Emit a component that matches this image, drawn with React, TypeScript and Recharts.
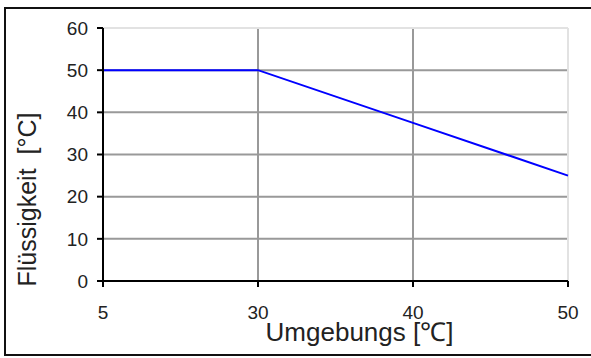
import React from 'react';
import { LineChart, Line, XAxis, YAxis, CartesianGrid, ReferenceLine } from 'recharts';

const categories = ['5', '30', '40', '50'];
const fluidTemp = [50, 50, 37.5, 25];
const yTicks = [0, 10, 20, 30, 40, 50, 60];
const xTitle = 'Umgebungs [℃]';
const yTitle = 'Flüssigkeit  [°C]';

const data = categories.map((c, i) => ({ x: c, y: fluidTemp[i] }));

const FONT = '"Liberation Sans", Arial, sans-serif';

const XTitle = (props: any) => {
  const vb = props.viewBox;
  return (
    <text x={vb.x + vb.width / 2 + 24} y={vb.y + 60} textAnchor="middle"
      fontFamily={FONT} fontSize={26} fill="#222" style={{ whiteSpace: 'pre' }}>{xTitle}</text>
  );
};

const YTitle = (props: any) => {
  const vb = props.viewBox;
  const cx = 36;
  const cy = vb.y + vb.height / 2 + 45;
  return (
    <text x={cx} y={cy} textAnchor="middle" transform={`rotate(-90 ${cx} ${cy})`}
      fontFamily={FONT} fontSize={25} fill="#222" style={{ whiteSpace: 'pre' }}>{yTitle}</text>
  );
};

export default function App() {
  return (
    <div style={{ position: 'absolute', left: 0, top: 0, width: 591, height: 358, background: '#fff', overflow: 'hidden' }}>
      <div style={{ position: 'absolute', left: 4, top: 7, width: 600, height: 349, border: '2px solid #111', boxSizing: 'border-box' }} />
      <div style={{ position: 'absolute', left: 0, top: 0 }}>
        <LineChart width={591} height={358} data={data} margin={{ top: 28, right: 23, left: 0, bottom: 0 }}>
          <CartesianGrid stroke="#999" strokeWidth={2} />
          <ReferenceLine y={60} stroke="#e2e2e2" strokeWidth={2} />
          <ReferenceLine x="50" stroke="#e2e2e2" strokeWidth={2} />
          <XAxis dataKey="x" type="category" height={77} tickSize={6} tickMargin={19}
            axisLine={{ stroke: '#000', strokeWidth: 2 }} tickLine={{ stroke: '#000', strokeWidth: 2 }}
            tick={{ fontFamily: FONT, fontSize: 19, fill: '#222' }} label={<XTitle />} />
          <YAxis type="number" domain={[0, 60]} ticks={yTicks} width={103} tickSize={6} tickMargin={9}
            axisLine={{ stroke: '#000', strokeWidth: 2 }} tickLine={{ stroke: '#000', strokeWidth: 2 }}
            tick={{ fontFamily: FONT, fontSize: 19, fill: '#222' }} label={<YTitle />} />
          <Line type="linear" dataKey="y" stroke="#0000ff" strokeWidth={2} dot={false} isAnimationActive={false} />
        </LineChart>
      </div>
    </div>
  );
}
